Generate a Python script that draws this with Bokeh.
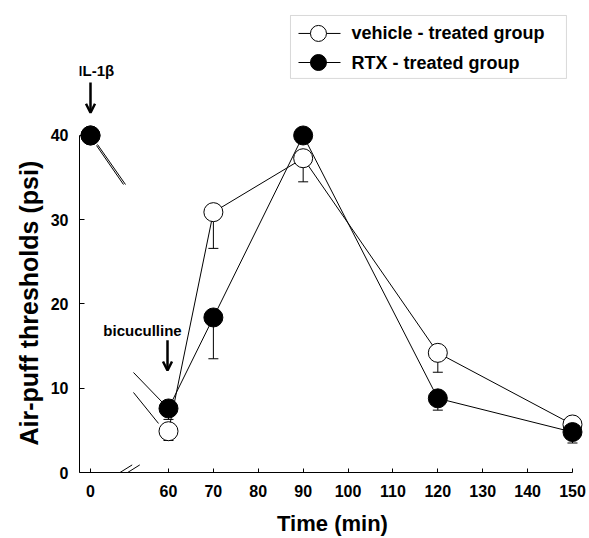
from bokeh.plotting import figure
from bokeh.models import (FixedTicker, Whisker, TeeHead, ColumnDataSource, Title,
                          Arrow, OpenHead, Label, Range1d, BoxAnnotation)
from bokeh.embed import file_html
from bokeh.resources import INLINE

# ---------------- data ----------------
time_min = [0, 60, 70, 90, 120, 150]
vehicle_mean = [40.0, 4.9, 30.9, 37.3, 14.2, 5.7]
vehicle_sem = [0.0, 1.1, 4.3, 2.8, 2.3, 0.5]
rtx_mean = [40.0, 7.6, 18.4, 40.0, 8.8, 4.8]
rtx_sem = [0.0, 1.3, 4.9, 0.5, 1.4, 1.3]
tick_times = [0, 60, 70, 80, 90, 100, 110, 120, 130, 140, 150]
tick_labels = [str(t) for t in tick_times]
y_ticks = [0, 10, 20, 30, 40]
series_names = ["vehicle - treated group", "RTX - treated group"]

# broken time axis: t < 60 is drawn just right of the y axis
AXIS_START = 40.174
BREAK_SHIFT = 42.625


def axis_pos(t):
    return t + BREAK_SHIFT if t < 60 else t


FONT = "Liberation Sans"

x_pos = [axis_pos(t) for t in time_min]
tick_pos = [axis_pos(t) for t in tick_times]

p = figure(width=589, height=538, x_range=Range1d(AXIS_START, 152.90), y_range=Range1d(0, 56.02),
           output_backend="svg", toolbar_location=None,
           min_border_left=79, min_border_right=4, min_border_top=0, min_border_bottom=66)
p.outline_line_color = None
p.xgrid.visible = False
p.ygrid.visible = False
p.background_fill_color = "white"
p.border_fill_color = "white"

# axes
for ax in (p.xaxis[0], p.yaxis[0]):
    ax.major_tick_out = 0
    ax.minor_tick_in = 0
    ax.minor_tick_out = 0
    ax.axis_line_color = "black"
    ax.major_tick_line_color = "black"
    ax.major_label_text_font = FONT
    ax.major_label_text_font_style = "bold"
    ax.major_label_text_font_size = "16px"
    ax.major_label_text_color = "black"
    ax.axis_label_text_font = FONT
    ax.axis_label_text_font_style = "bold"
    ax.axis_label_text_font_size = "22px"
    ax.axis_label_text_color = "black"

p.yaxis.ticker = FixedTicker(ticks=y_ticks)
p.yaxis.bounds = (0, 40)
p.yaxis.major_tick_in = 5
p.yaxis.major_label_standoff = 11

p.xaxis.ticker = FixedTicker(ticks=tick_pos)
p.xaxis.major_label_overrides = {pos: lab for pos, lab in zip(tick_pos, tick_labels)}
p.xaxis.bounds = (AXIS_START, 150)
p.xaxis.major_tick_in = 4
p.xaxis.major_label_standoff = 12
p.xaxis.axis_label = "Time (min)"
p.xaxis.axis_label_standoff = 11

# y-axis title, anchored near the bottom of the axis as in the original
p.add_layout(Title(text="Air-puff thresholds (psi)", align="left", offset=27,
                   vertical_align="top",
                   text_font=FONT, text_font_style="bold", text_font_size="25px",
                   text_color="black", standoff=6), "left")

# error bars (downward only)
for mean, sem in ((vehicle_mean, vehicle_sem), (rtx_mean, rtx_sem)):
    idx = [i for i, s in enumerate(sem) if s > 0]
    src = ColumnDataSource(dict(x=[x_pos[i] for i in idx],
                                upper=[mean[i] for i in idx],
                                lower=[mean[i] - sem[i] for i in idx]))
    w = Whisker(base="x", upper="upper", lower="lower", source=src,
                line_color="black", line_width=1,
                upper_head=None,
                lower_head=TeeHead(size=10, line_color="black", line_width=1))
    p.add_layout(w)

# connecting lines (from 60 min on; the 0 -> 60 stretch is broken)
p.line(x_pos[1:], vehicle_mean[1:], line_color="black", line_width=1)
p.line(x_pos[1:], rtx_mean[1:], line_color="black", line_width=1)

# broken-line stubs near 0 and 60 min
p.segment(x0=[44.18, 43.96, 52.20, 52.20], y0=[38.93, 38.81, 11.87, 9.50],
          x1=[50.42, 49.97, 58.66, 57.78], y1=[34.18, 34.18, 8.31, 5.82],
          line_color="black", line_width=1)

# axis break marks on the time axis
p.segment(x0=[49.2, 50.9], y0=[0.0, 0.0], x1=[51.91, 53.60], y1=[0.9, 0.9],
          line_color="black", line_width=1)

p.scatter(x_pos, vehicle_mean, size=19, marker="circle",
          fill_color="white", line_color="black", line_width=1)
p.scatter(x_pos, rtx_mean, size=19, marker="circle",
          fill_color="black", line_color="black", line_width=1)

# annotations
p.add_layout(Arrow(x_start=axis_pos(0), y_start=46.3, x_end=axis_pos(0), y_end=42.7,
                   line_color="black", line_width=2.5,
                   end=OpenHead(size=9, line_color="black", line_width=2.5)))
p.add_layout(Label(x=43.9, y=47.7, text="IL-1β", text_font=FONT, text_color="black",
                   text_font_style="bold", text_font_size="15px",
                   text_align="center", text_baseline="middle"))
p.add_layout(Arrow(x_start=59.78, y_start=15.7, x_end=59.78, y_end=12.1,
                   line_color="black", line_width=2.5,
                   end=OpenHead(size=9, line_color="black", line_width=2.5)))
p.add_layout(Label(x=54.21, y=16.85, text="bicuculline", text_font=FONT, text_color="black",
                   text_font_style="bold", text_font_size="15px",
                   text_align="center", text_baseline="middle"))

# legend (drawn by hand for exact marker size/row spacing)
p.add_layout(BoxAnnotation(left=87.18, right=148.66, bottom=46.77, top=54.24,
                           fill_color="white", fill_alpha=1.0,
                           line_color="#808080", line_width=1, level="underlay"))
leg_rows = [52.11, 48.66]
leg_fill = ["white", "black"]
p.segment(x0=[88.96, 88.96], y0=leg_rows, x1=[98.32, 98.32], y1=leg_rows,
          line_color="black", line_width=1)
p.scatter([93.41, 93.41], leg_rows, size=16, marker="circle", fill_color=leg_fill,
          line_color="black", line_width=1)
for name, yy in zip(series_names, leg_rows):
    p.add_layout(Label(x=100.76, y=yy, text=name, text_font=FONT, text_color="black",
                       text_font_style="bold", text_font_size="18px",
                       text_align="left", text_baseline="middle"))

open("out.html", "w").write(file_html(p, INLINE))
